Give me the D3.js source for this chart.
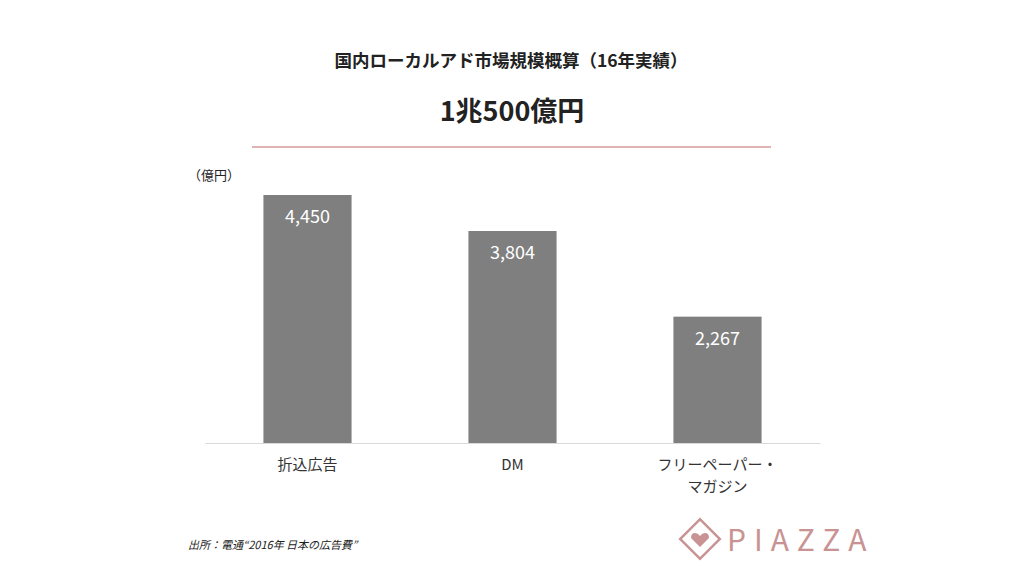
<!DOCTYPE html>
<html><head><meta charset="utf-8">
<script src="https://cdn.jsdelivr.net/npm/d3@7"></script>
<style>body{margin:0;background:#fff}text{font-family:"Noto Sans CJK JP","Noto Sans",sans-serif}</style>
</head><body><svg id="c" width="1024" height="586"></svg>
<script>
const categories = ["折込広告","DM","フリーペーパー・\nマガジン"];
const values = [4450,3804,2267];
const labels = ["4,450","3,804","2,267"];

const svg = d3.select("#c");
const x = d3.scaleBand().domain(categories).range([205,820]).paddingInner(0.57).paddingOuter(0.285);
const y = d3.scaleLinear().domain([0,4450]).range([443,195]);

svg.append("text").attr("x",511).attr("y",67).attr("text-anchor","middle").attr("font-size",17.5).attr("font-weight","bold").attr("fill","#222").text("国内ローカルアド市場規模概算（16年実績）");
svg.append("text").attr("x",512).attr("y",121).attr("text-anchor","middle").attr("font-size",27).attr("font-weight","bold").attr("fill","#222").text("1兆500億円");
svg.append("line").attr("x1",252).attr("x2",771).attr("y1",147).attr("y2",147).attr("stroke","#d49a9a").attr("stroke-width",1.5);
svg.append("text").attr("x",188).attr("y",180).attr("font-size",13).attr("fill","#222").text("（億円）");

svg.selectAll("rect.bar").data(values).join("rect").attr("class","bar")
 .attr("x",(d,i)=>x(categories[i])).attr("width",x.bandwidth())
 .attr("y",d=>y(d)).attr("height",d=>y(0)-y(d)).attr("fill","#7f7f7f");
svg.selectAll("text.val").data(values).join("text").attr("class","val")
 .attr("x",(d,i)=>x(categories[i])+x.bandwidth()/2).attr("y",d=>y(d)+28)
 .attr("text-anchor","middle").attr("font-size",18).attr("fill","#fff").attr("font-family","'Open Sans',sans-serif").text((d,i)=>labels[i]);

const ax = svg.append("g").attr("transform","translate(0,443)").call(d3.axisBottom(x).tickSize(0).tickFormat(""));
ax.select(".domain").attr("stroke","#d9d9d9");
categories.forEach(c=>{
  const t = svg.append("text").attr("x",x(c)+x.bandwidth()/2).attr("y",470).attr("text-anchor","middle").attr("font-size",15).attr("fill","#333");
  c.split("\n").forEach((s,i)=>t.append("tspan").attr("x",x(c)+x.bandwidth()/2).attr("dy",i?22:0).text(s));
});

svg.append("text").attr("x",188).attr("y",549).attr("font-size",11).attr("font-style","italic").attr("fill","#222").text("出所：電通“2016年 日本の広告費”");

// logo
const g = svg.append("g").attr("transform","translate(700,539)");
g.append("rect").attr("x",-14).attr("y",-14).attr("width",28).attr("height",28).attr("transform","rotate(45)").attr("fill","none").attr("stroke","#c99393").attr("stroke-width",2.5);
g.append("path").attr("d","M0,8 L-9,-1 Q-9,-6 -5,-6 Q-2,-6 0,-3 Q2,-6 5,-6 Q9,-6 9,-1 Z").attr("fill","#c99393");
svg.append("text").attr("x",727).attr("y",551).attr("font-size",30).attr("letter-spacing",8).attr("fill","#c99393").attr("font-family","Lato, sans-serif").text("PIAZZA");
</script></body></html>
